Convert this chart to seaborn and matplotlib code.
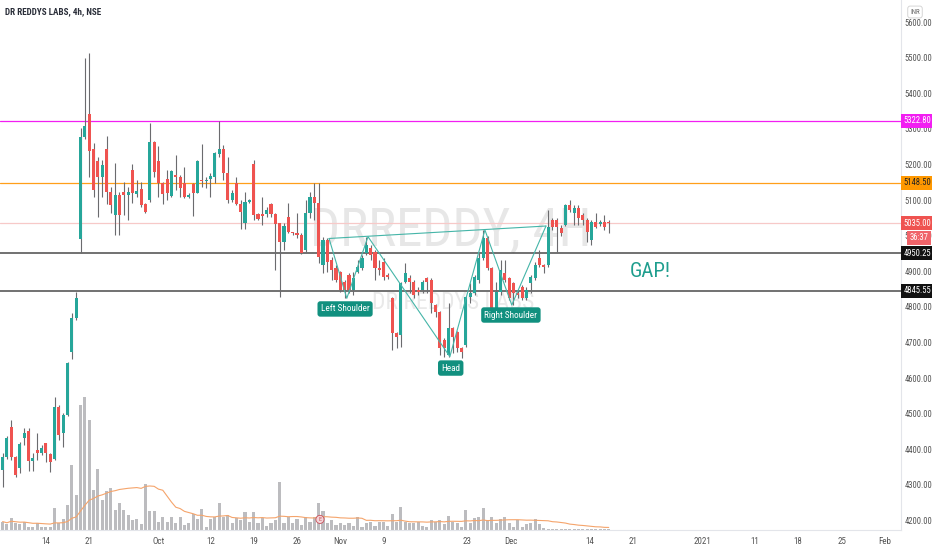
import numpy as np
import pandas as pd
import seaborn as sns
import matplotlib.pyplot as plt
import matplotlib.transforms as mtransforms
from matplotlib import font_manager

# 4h candles, Sep 7 .. Dec 15 2020 (INR)
opens = [4342, 4378, 4462, 4378, 4347, 4431, 4451, 4367, 4398, 4389,
         4417, 4387, 4372, 4519, 4446, 4496, 4673, 4769, 4990, 5277,
         5342, 5243, 5210, 5165, 5243, 5122, 5058, 5114, 5122, 5114,
         5184, 5117, 5131, 5089, 5100, 5263, 5210, 5148, 5159, 5111,
         5170, 5165, 5148, 5108, 5145, 5120, 5156, 5153, 5159, 5165,
         5229, 5243, 5176, 5100, 5148, 5089, 5035, 5094, 5201, 5060,
         5060, 5060, 5089, 5060, 5035, 4982, 5052, 5010, 5007, 5002,
         4960, 5063, 5108, 5092, 4917, 4988, 4931, 4909, 4898, 4870,
         4889, 4847, 4898, 4909, 4951, 4965, 4954, 4909, 4926, 4889,
         4825, 4726, 4721, 4870, 4881, 4870, 4847, 4847, 4881, 4875,
         4805, 4785, 4707, 4665, 4740, 4729, 4684, 4693, 4828, 4839,
         4875, 4937, 4993, 4909, 4797, 4842, 4895, 4881, 4867, 4839,
         4856, 4825, 4867, 4881, 4937, 4917, 4917, 5044, 5044, 5021,
         5030, 5086, 5063, 5078, 5058, 5044, 4988, 5038, 5032, 5038,
         5038]
highs = [4389, 4437, 4482, 4381, 4420, 4460, 4460, 4389, 4446, 4412,
         4417, 4390, 4547, 4524, 4502, 4645, 4783, 4842, 5302, 5499,
         5513, 5260, 5221, 5212, 5280, 5137, 5204, 5122, 5150, 5137,
         5201, 5156, 5150, 5092, 5316, 5266, 5252, 5150, 5184, 5184,
         5226, 5170, 5192, 5120, 5148, 5212, 5257, 5165, 5176, 5235,
         5322, 5254, 5221, 5128, 5165, 5100, 5122, 5103, 5212, 5063,
         5108, 5080, 5092, 5063, 5035, 5035, 5092, 5010, 5063, 5007,
         5100, 5122, 5148, 5148, 4996, 4993, 4940, 4917, 4901, 4875,
         4895, 4898, 4931, 4945, 4996, 4974, 4960, 4931, 4937, 4895,
         4828, 4729, 4870, 4923, 4889, 4875, 4856, 4875, 4884, 4881,
         4808, 4788, 4712, 4811, 4743, 4732, 4687, 4831, 4867, 4889,
         4951, 5016, 4999, 4912, 4870, 4931, 4931, 4884, 4870, 4847,
         4861, 4856, 4889, 4926, 4960, 4920, 5072, 5049, 5049, 5030,
         5089, 5100, 5086, 5086, 5063, 5049, 5044, 5063, 5044, 5058,
         5044]
lows = [4294, 4372, 4370, 4322, 4333, 4412, 4339, 4339, 4370, 4384,
        4364, 4336, 4370, 4426, 4406, 4494, 4653, 4763, 4951, 5272,
        5165, 5108, 5052, 5108, 5089, 5063, 5002, 5002, 5058, 5044,
        5092, 5108, 5080, 5063, 5094, 5165, 5108, 5089, 5100, 5108,
        5128, 5108, 5106, 5106, 5055, 5120, 5137, 5134, 5108, 5148,
        5221, 5156, 5092, 5094, 5086, 5018, 5018, 5092, 5044, 5044,
        5030, 5052, 5052, 4903, 4828, 4960, 5007, 5002, 4993, 4948,
        4955, 5049, 5044, 4923, 4895, 4898, 4875, 4870, 4842, 4825,
        4839, 4833, 4895, 4903, 4945, 4931, 4875, 4889, 4875, 4878,
        4679, 4684, 4687, 4867, 4839, 4825, 4833, 4839, 4839, 4783,
        4771, 4665, 4659, 4659, 4670, 4673, 4656, 4687, 4811, 4833,
        4867, 4931, 4903, 4790, 4790, 4833, 4870, 4819, 4805, 4825,
        4819, 4819, 4839, 4875, 4912, 4895, 4912, 5016, 4954, 4999,
        5027, 5066, 5030, 5030, 5030, 4982, 4975, 5021, 5027, 5016,
        5007]
closes = [4378, 4431, 4378, 4328, 4415, 4446, 4367, 4375, 4389, 4403,
          4389, 4364, 4519, 4440, 4496, 4642, 4769, 4825, 5277, 5308,
          5238, 5128, 5165, 5198, 5122, 5086, 5114, 5058, 5114, 5122,
          5120, 5125, 5086, 5066, 5263, 5179, 5148, 5117, 5120, 5181,
          5165, 5134, 5108, 5114, 5120, 5210, 5153, 5156, 5167, 5232,
          5243, 5176, 5100, 5120, 5089, 5066, 5094, 5100, 5058, 5047,
          5055, 5072, 5060, 5032, 4982, 5027, 5010, 5007, 5002, 4951,
          5063, 5108, 5092, 4940, 4988, 4926, 4903, 4875, 4847, 4847,
          4847, 4881, 4912, 4937, 4974, 4945, 4909, 4903, 4884, 4884,
          4726, 4715, 4867, 4895, 4870, 4833, 4842, 4870, 4870, 4811,
          4785, 4684, 4684, 4740, 4715, 4684, 4673, 4828, 4839, 4884,
          4937, 4993, 4909, 4797, 4842, 4903, 4875, 4825, 4839, 4833,
          4825, 4847, 4884, 4917, 4917, 4912, 5024, 5024, 5024, 5007,
          5086, 5072, 5078, 5049, 5044, 5010, 5038, 5024, 5038, 5024,
          5035]
# volume, thousand shares (approx)
volumes = [25, 18, 35, 20, 18, 25, 10, 8, 22, 10,
           10, 10, 64, 20, 32, 75, 192, 105, 372, 395,
           328, 120, 182, 90, 117, 125, 58, 80, 58, 45,
           30, 32, 17, 138, 55, 55, 25, 40, 25, 40,
           22, 40, 15, 20, 47, 32, 62, 10, 32, 40,
           80, 40, 45, 20, 35, 30, 53, 25, 53, 22,
           37, 12, 22, 30, 142, 22, 38, 22, 32, 15,
           40, 25, 38, 79, 57, 22, 30, 15, 22, 15,
           22, 12, 38, 10, 20, 25, 12, 25, 25, 12,
           48, 25, 67, 25, 20, 20, 25, 12, 8, 30,
           25, 30, 18, 42, 25, 20, 10, 58, 20, 35,
           38, 66, 30, 40, 22, 32, 38, 22, 10, 30,
           10, 18, 20, 32, 17, 5, 4, 4, 4, 4,
           4, 4, 4, 4, 4, 4, 4, 4, 4, 4,
           4]

# date labels and the candle slot they sit on
date_labels = ['14', '21', 'Oct', '12', '19', '26', 'Nov', '9', '23', 'Dec',
               '14', '21', '2021', '11', '18', '25', 'Feb']
date_slots = [10, 20, 36, 48, 58, 68, 78, 88, 107.3, 117.4,
              135.6, 145.6, 161.7, 173.7, 183.7, 193.9, 203.8]

# horizontal levels drawn on the chart
level_prices = [5322.80, 5148.50, 5035.00, 4950.25, 4845.55]
level_colors = ['#f21ef2', '#ff9f1a', '#f7c9c8', '#4a4a4a', '#4a4a4a']
level_box = ['#f21ef2', '#ff9800', '#ef5350', '#111111', '#111111']
level_text = ['white', '#222222', 'white', 'white', 'white']

# inverse head & shoulders drawing
pattern_x = [75.4, 79.5, 84.4, 103.3, 111.4, 117.6, 125.5]
pattern_y = [4992, 4824, 4997, 4660, 5016, 4805, 5027]
neck_x = [75.4, 125.5]
neck_y = [4992, 5027]
pattern_names = ['Left Shoulder', 'Head', 'Right Shoulder']
name_x = [79.1, 103.5, 117.4]
name_y = [4794, 4628, 4777]

df = pd.DataFrame({'open': opens, 'high': highs, 'low': lows,
                   'close': closes, 'volume': volumes})
df['slot'] = np.arange(len(df))
df['up'] = df['close'] >= df['open']
df['vol_ma'] = df['volume'].rolling(20, min_periods=1).mean()

sns.set_theme(style='white')
installed = {f.name for f in font_manager.fontManager.ttflist}
narrow = None
for cand in ['Liberation Sans Narrow', 'Roboto Condensed', 'Open Sans Condensed']:
    if cand in installed:
        narrow = cand
        break
if narrow is None:
    narrow = 'Roboto' if 'Roboto' in installed else 'DejaVu Sans'
    k = 0.84
else:
    k = 1.0
plt.rcParams['font.family'] = [narrow, 'DejaVu Sans']

fig = plt.figure(figsize=(9.32, 5.5), dpi=100)
rect = [0, 20 / 550, 901 / 932, 530 / 550]
axv = fig.add_axes(rect, zorder=0)
ax = fig.add_axes(rect, sharex=axv, zorder=1)
ax.patch.set_visible(False)

# volume pane
axv.bar(df['slot'], df['volume'], width=0.72, color='#bcbcbf', linewidth=0)
sns.lineplot(data=df, x='slot', y='vol_ma', ax=axv, color='#f5a46b', lw=0.8)
axv.set_ylim(0, 1574)
axv.axis('off')

# watermark
ax.text(0.500, 0.565, 'DRREDDY, 4H', transform=ax.transAxes, fontsize=38 * k,
        color='#e7e7e7', ha='center', va='center', zorder=0)
ax.text(0.503, 0.43, 'DR REDDYS LABS', transform=ax.transAxes, fontsize=17 * k,
        color='#e9e9e9', ha='center', va='center', zorder=0)

# candles
up_c, dn_c = '#26a69a', '#ef5350'
colors = np.where(df['up'], up_c, dn_c)
ax.vlines(df['slot'], df['low'], df['high'], color='#6b6b6e', lw=0.8, zorder=2)
body_lo = np.minimum(df['open'], df['close'])
body_h = np.maximum((df['close'] - df['open']).abs(), 2.5)
ax.bar(df['slot'], body_h, bottom=body_lo, width=0.72, color=colors,
       linewidth=0, zorder=3)

# levels
for p, c in zip(level_prices, level_colors):
    ax.axhline(p, color=c, lw=1.1 if c == '#4a4a4a' else 0.9, zorder=1.5)

# pattern drawing
sns.lineplot(x=neck_x, y=neck_y, ax=ax, color='#45b5a8', lw=0.8, sort=False, zorder=4)
sns.lineplot(x=pattern_x, y=pattern_y, ax=ax, color='#45b5a8', lw=0.8, sort=False, zorder=4)
for name, nx, ny in zip(pattern_names, name_x, name_y):
    ax.text(nx, ny, name, fontsize=6.6 * k, color='white', ha='center', va='center',
            zorder=6, bbox=dict(boxstyle='round,pad=0.35,rounding_size=0.3',
                                fc='#11907f', ec='none'))
ax.text(149.5, 4898, 'GAP!', fontsize=15 * k, color='#1f9e8e', ha='center', va='center')

# earnings marker
ax.text(73.3, 0.02, 'E', transform=mtransforms.blended_transform_factory(ax.transData, ax.transAxes),
        fontsize=4.5, color='#c94f5a', ha='center', va='center', zorder=6,
        bbox=dict(boxstyle='circle,pad=0.25', fc='#f3d5d8', ec='#c94f5a', lw=0.6))

ax.set_xlim(-0.6, 207.5)
ax.set_ylim(4173, 5662)
ax.set_xlabel('')
ax.set_ylabel('')

ax.set_xticks(date_slots)
ax.set_xticklabels(date_labels)
price_ticks = np.arange(4200, 5601, 100)
ax.set_yticks(price_ticks)
ax.set_yticklabels([f'{v:.2f}' for v in price_ticks])
ax.yaxis.tick_right()
ax.tick_params(axis='y', length=0, pad=2.5, labelsize=6.2 * k, labelcolor='#555555')
ax.tick_params(axis='x', length=0, pad=5, labelsize=6.5 * k, labelcolor='#555555')
for side in ['top', 'left']:
    ax.spines[side].set_visible(False)
for side in ['bottom', 'right']:
    ax.spines[side].set_color('#e3e5ea')
    ax.spines[side].set_linewidth(0.8)

# price boxes on the axis
box_tr = mtransforms.offset_copy(
    mtransforms.blended_transform_factory(ax.transAxes, ax.transData),
    fig=fig, x=2.0, y=0, units='points')
for p, bc, tc in zip(level_prices, level_box, level_text):
    ax.text(1.0, p, f'{p:.2f}', transform=box_tr, fontsize=6.2 * k, color=tc,
            ha='left', va='center', clip_on=False, zorder=10,
            bbox=dict(boxstyle='square,pad=0.3', fc=bc, ec='none'))
cd_tr = mtransforms.offset_copy(
    mtransforms.blended_transform_factory(ax.transAxes, ax.transData),
    fig=fig, x=6.5, y=0, units='points')
ax.text(1.0, 4994, '36:37', transform=cd_tr, fontsize=6.2 * k, color='white',
        ha='left', va='center', clip_on=False, zorder=10,
        bbox=dict(boxstyle='square,pad=0.3', fc='#f0646a', ec='none'))

fig.text(5 / 932, 1 - 12 / 550, 'DR REDDYS LABS, 4h, NSE', fontsize=6.6 * k,
         fontweight='bold', color='#2a2e39', va='center', ha='left')
fig.text(915 / 932, 1 - 12 / 550, 'INR', fontsize=5 * k, color='#666666',
         va='center', ha='center',
         bbox=dict(boxstyle='round,pad=0.35', fc='white', ec='#cfcfcf', lw=0.6))

fig.savefig('out.png', dpi=100)
